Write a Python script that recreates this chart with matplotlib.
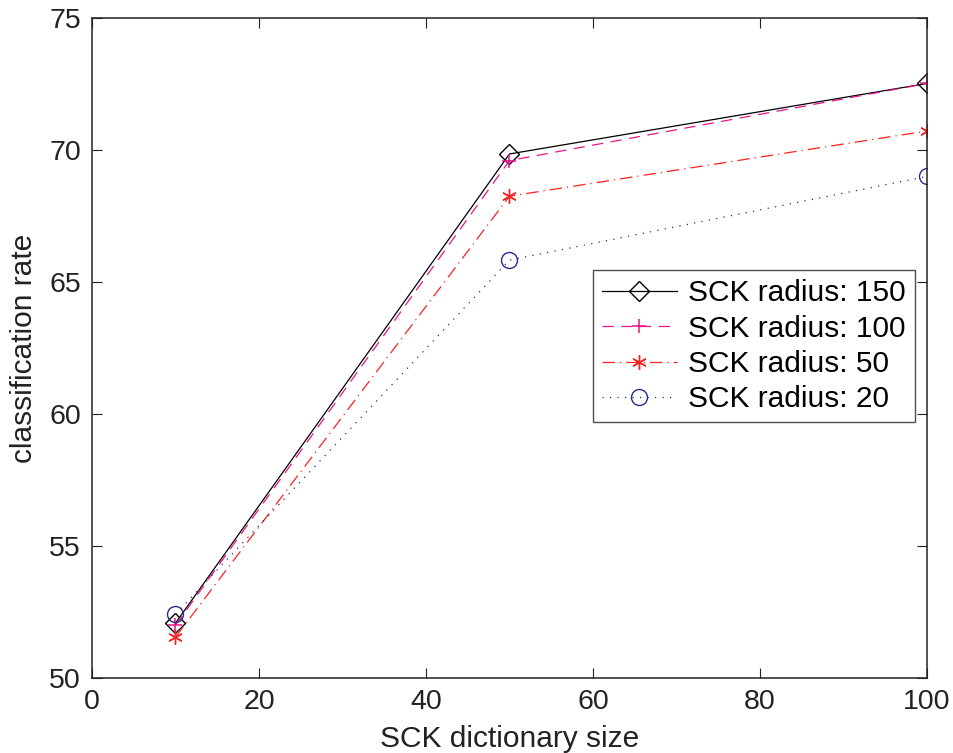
import matplotlib
matplotlib.use("Agg")
import matplotlib.pyplot as plt
from matplotlib.lines import Line2D

plt.rcParams['font.family'] = ['Liberation Sans', 'DejaVu Sans']

dict_sizes = [10, 50, 100]
rate_r150 = [52.08, 69.85, 72.52]
rate_r100 = [52.0, 69.6, 72.52]
rate_r50 = [51.55, 68.25, 70.72]
rate_r20 = [52.42, 65.83, 69.0]

labels = ["SCK radius: 150", "SCK radius: 100", "SCK radius: 50", "SCK radius: 20"]
x_ticks = [0, 20, 40, 60, 80, 100]
y_ticks = [50, 55, 60, 65, 70, 75]

styles = [
    dict(color='black', linestyle='-', marker='D', markersize=10,
         markerfacecolor='none', markeredgewidth=1.0),
    dict(color='#e8168a', linestyle=(0, (9, 6)), marker='+', markersize=10,
         markeredgewidth=1.1),
    dict(color='#ff2020', linestyle=(0, (10, 4, 1, 4)), marker=(6, 2, 0), markersize=10.5,
         markeredgewidth=1.0),
    dict(color='#2a2a8e', linestyle=(0, (1, 5)), marker='o', markersize=11.5,
         markerfacecolor='none', markeredgewidth=1.0),
]
series = [rate_r150, rate_r100, rate_r50, rate_r20]

fig = plt.figure(figsize=(9.54, 7.53), dpi=100)
ax = fig.add_axes([0.0964, 0.0996, 0.8753, 0.8765])

for vals, st, lab in zip(series, styles, labels):
    ax.plot(dict_sizes, vals, linewidth=0.9, label=lab, **st)

ax.set_xlim(0, 100)
ax.set_ylim(50, 75)
ax.set_xticks(x_ticks)
ax.set_yticks(y_ticks)
ax.tick_params(direction='in', top=True, right=True, length=7, width=0.8,
               labelsize=20.5, colors='#222222', pad=8)
for s in ax.spines.values():
    s.set_linewidth(1.1)
    s.set_color('#222222')

ax.set_xlabel("SCK dictionary size", fontsize=21.5, color='#222222', labelpad=7)
ax.set_ylabel("classification rate", fontsize=21.5, color='#222222', labelpad=8)

handles = [Line2D([], [], linewidth=0.9, **st) for st in styles]
leg = ax.legend(handles, labels, loc='upper left', bbox_to_anchor=(0.6, 0.618),
                fontsize=21.5, frameon=True, fancybox=False, edgecolor='#222222',
                handlelength=2.5, handletextpad=0.38, borderpad=0.3, labelspacing=0.25,
                borderaxespad=0)
leg.get_frame().set_linewidth(1.0)

fig.savefig("out.png", dpi=100)
